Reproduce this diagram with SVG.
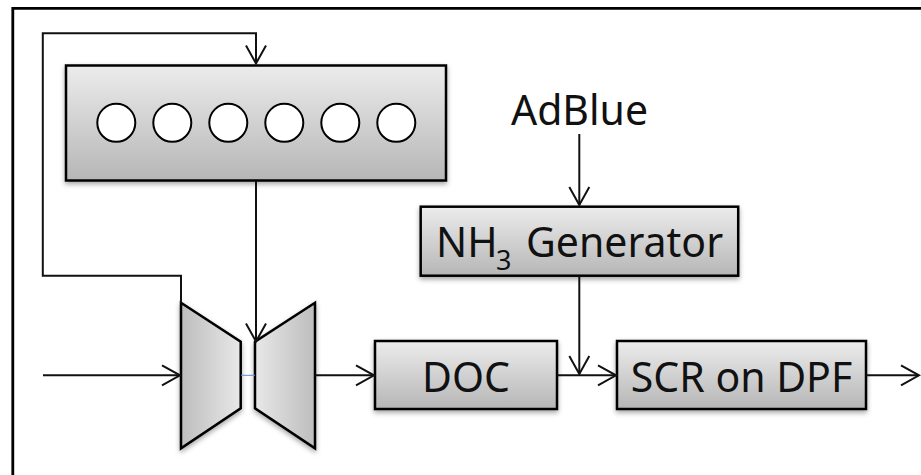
<svg xmlns="http://www.w3.org/2000/svg" width="921" height="475" viewBox="0 0 921 475">
<style>
.b{stroke:#000;stroke-width:2.500;stroke-linejoin:miter}
.c{fill:none;stroke:#111;stroke-width:2}
.t{font-family:"Noto Sans","Open Sans",sans-serif;font-size:41px;fill:#111}
</style>
<defs>
<linearGradient id="v" x1="0" y1="0" x2="0" y2="1"><stop offset="0" stop-color="#ececec"/><stop offset="1" stop-color="#b6b6b6"/></linearGradient>
<linearGradient id="l" x1="0" y1="0" x2="1" y2="0"><stop offset="0" stop-color="#bdbdbd"/><stop offset="1" stop-color="#e8e8e8"/></linearGradient>
<linearGradient id="r" x1="0" y1="0" x2="1" y2="0"><stop offset="0" stop-color="#e8e8e8"/><stop offset="1" stop-color="#bdbdbd"/></linearGradient>
<filter id="s" x="-10%" y="-10%" width="120%" height="125%"><feDropShadow dx="0" dy="2.500" stdDeviation="2.500" flood-color="#000" flood-opacity=".35"/></filter>
<marker id="a" markerUnits="userSpaceOnUse" markerWidth="24" markerHeight="24" refX="19" refY="10" orient="auto" overflow="visible"><path d="M1 0L19 10L1 20" fill="none" stroke="#111" stroke-width="2"/></marker>
</defs>
<rect width="921" height="475" fill="#fff"/>
<path id="frame" d="M12.800 475V8.300H921" fill="none" stroke="#000" stroke-width="2.800"/>
<g id="engine">
<rect class="b" x="66" y="65.500" width="380" height="115" fill="url(#v)" filter="url(#s)"/>
<g fill="#fff" stroke="#000" stroke-width="2">
<circle cx="116.300" cy="122.800" r="19"/><circle cx="172.300" cy="122.800" r="19"/><circle cx="228.300" cy="122.800" r="19"/><circle cx="284.300" cy="122.800" r="19"/><circle cx="340.300" cy="122.800" r="19"/><circle cx="396.300" cy="122.800" r="19"/>
</g>
</g>
<g id="compressor"><path class="b" d="M181 302.700L240.700 341.700V408.300L181 448.300Z" fill="url(#l)" filter="url(#s)"/></g>
<g id="turbine"><path class="b" d="M315 302.700L255 341.700V408.300L315 448.300Z" fill="url(#r)" filter="url(#s)"/></g>
<g id="nh3"><rect class="b" x="420.700" y="206.700" width="317.500" height="69" fill="url(#v)" filter="url(#s)"/>
<text class="t" x="436" y="257">NH<tspan font-size="27" x="496" y="270">3</tspan><tspan x="526" y="257">Generator</tspan></text></g>
<g id="doc"><rect class="b" x="375" y="341" width="182" height="68" fill="url(#v)" filter="url(#s)"/>
<text class="t" x="466" y="392" text-anchor="middle">DOC</text></g>
<g id="scr"><rect class="b" x="617" y="341" width="249" height="68" fill="url(#v)" filter="url(#s)"/>
<text class="t" x="741.500" y="392" text-anchor="middle">SCR on DPF</text></g>
<g id="adblue"><text class="t" x="579.500" y="125" text-anchor="middle">AdBlue</text></g>
<g id="connectors">
<path class="c" d="M181 302V275.700H42.800V33.300H256V63.500" marker-end="url(#a)"/>
<path class="c" d="M256 181V341.500" marker-end="url(#a)"/>
<path class="c" d="M43 375.300H180" marker-end="url(#a)"/>
<path d="M241 375.300H255" fill="none" stroke="#5b8fd0" stroke-width="1"/>
<path class="c" d="M315 375.300H374" marker-end="url(#a)"/>
<path class="c" d="M557 375.300H616" marker-end="url(#a)"/>
<path class="c" d="M579.300 134V205" marker-end="url(#a)"/>
<path class="c" d="M579.300 276V374" marker-end="url(#a)"/>
<path class="c" d="M866 375.300H919" marker-end="url(#a)"/>
</g>
</svg>
